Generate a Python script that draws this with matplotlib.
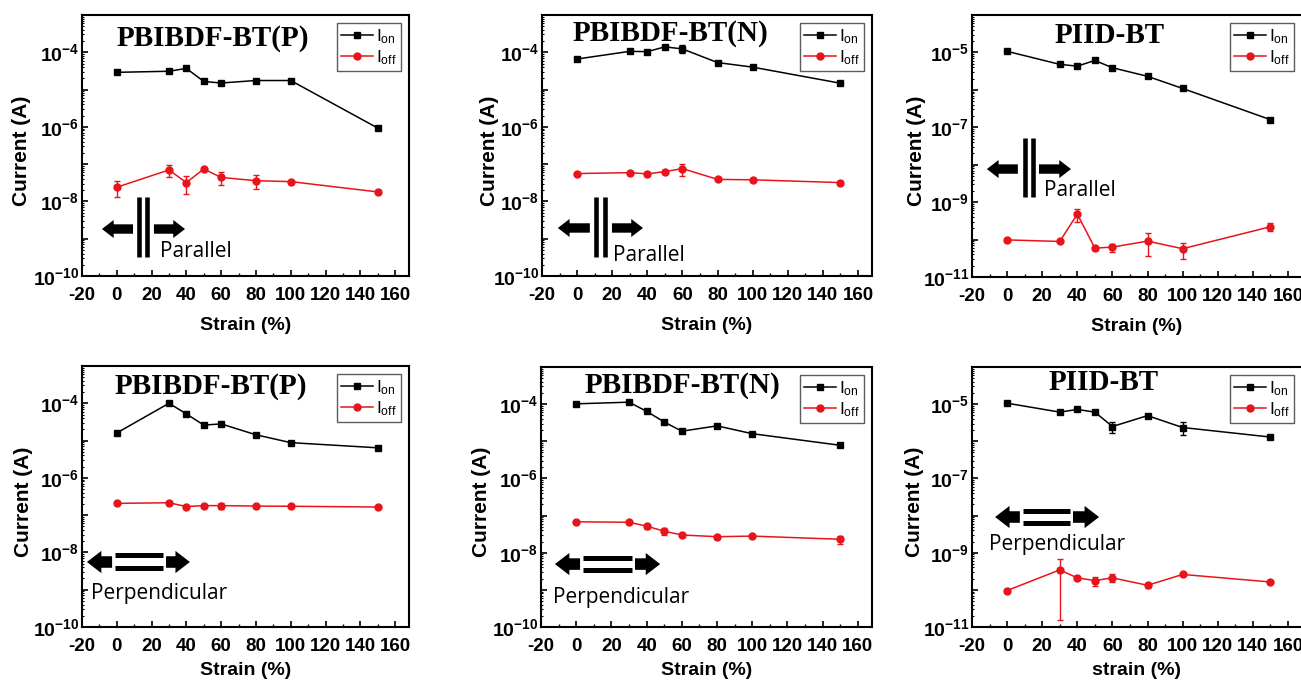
import numpy as np
import matplotlib.pyplot as plt
from matplotlib.ticker import FixedLocator, FuncFormatter, LogLocator, MultipleLocator

plt.rcParams['font.family'] = 'Liberation Sans'
plt.rcParams['axes.unicode_minus'] = False
plt.rcParams['mathtext.fontset'] = 'custom'
plt.rcParams['mathtext.rm'] = 'Liberation Sans'
plt.rcParams['mathtext.it'] = 'Liberation Sans:italic'
plt.rcParams['mathtext.bf'] = 'Liberation Sans:bold'

strain = [0, 30, 40, 50, 60, 80, 100, 150]

# PBIBDF-BT(P), strain parallel
pp_on = [2.9e-5, 3.1e-5, 3.7e-5, 1.65e-5, 1.5e-5, 1.75e-5, 1.75e-5, 9.3e-7]
pp_on_err = [0, 0, 0, 0, 0, 0, 0, 0]
pp_off = [2.4e-8, 7.0e-8, 3.2e-8, 7.4e-8, 4.4e-8, 3.6e-8, 3.4e-8, 1.8e-8]
pp_off_err = [1.1e-8, 2.5e-8, 1.6e-8, 0.5e-8, 1.7e-8, 1.5e-8, 0.4e-8, 0.2e-8]

# PBIBDF-BT(N), strain parallel
np_on = [6.6e-5, 1.06e-4, 1.04e-4, 1.4e-4, 1.23e-4, 5.3e-5, 4.0e-5, 1.48e-5]
np_on_err = [0, 0, 0, 0, 3e-5, 0, 0, 0]
np_off = [5.6e-8, 5.9e-8, 5.5e-8, 6.3e-8, 7.6e-8, 3.9e-8, 3.8e-8, 3.2e-8]
np_off_err = [0.4e-8, 0.6e-8, 0.8e-8, 0.5e-8, 2.8e-8, 0.3e-8, 0.3e-8, 0.3e-8]

# PIID-BT, strain parallel
ip_on = [1.07e-5, 4.8e-6, 4.3e-6, 6.1e-6, 3.9e-6, 2.3e-6, 1.09e-6, 1.6e-7]
ip_on_err = [0, 0, 0, 0, 0, 0, 0, 2e-8]
ip_off = [9.8e-11, 8.9e-11, 4.8e-10, 5.9e-11, 6.3e-11, 9.1e-11, 5.7e-11, 2.2e-10]
ip_off_err = [0.5e-11, 0.5e-11, 1.9e-10, 0.5e-11, 1.5e-11, 5.5e-11, 2.6e-11, 0.5e-10]

# PBIBDF-BT(P), strain perpendicular
pv_on = [1.6e-5, 1.0e-4, 5.2e-5, 2.6e-5, 2.8e-5, 1.43e-5, 8.8e-6, 6.4e-6]
pv_on_err = [0, 0, 0, 0, 0, 0, 0, 0]
pv_off = [2.07e-7, 2.15e-7, 1.7e-7, 1.8e-7, 1.8e-7, 1.75e-7, 1.73e-7, 1.65e-7]
pv_off_err = [0.15e-7, 0.3e-7, 0.15e-7, 0.15e-7, 0.3e-7, 0.15e-7, 0.1e-7, 0.1e-7]

# PBIBDF-BT(N), strain perpendicular
nv_on = [1.02e-4, 1.13e-4, 6.4e-5, 3.3e-5, 1.87e-5, 2.6e-5, 1.6e-5, 7.8e-6]
nv_on_err = [0, 0, 0, 0, 0, 0, 0, 0]
nv_off = [6.8e-8, 6.6e-8, 5.2e-8, 3.8e-8, 3.0e-8, 2.7e-8, 2.8e-8, 2.3e-8]
nv_off_err = [0.3e-8, 0.3e-8, 0.8e-8, 0.8e-8, 0.3e-8, 0.3e-8, 0.3e-8, 0.6e-8]

# PIID-BT, strain perpendicular
iv_on = [1.06e-5, 6.1e-6, 7.2e-6, 6.1e-6, 2.5e-6, 4.9e-6, 2.35e-6, 1.3e-6]
iv_on_err = [0, 0, 0, 0, 0.8e-6, 0, 0.9e-6, 0]
iv_off = [9.6e-11, 3.45e-10, 2.1e-10, 1.78e-10, 2.1e-10, 1.33e-10, 2.6e-10, 1.63e-10]
iv_off_err = [0.5e-11, 3.3e-10, 0.2e-10, 0.5e-10, 0.5e-10, 0.2e-10, 0.1e-10, 0.1e-10]

titles = ['PBIBDF-BT(P)', 'PBIBDF-BT(N)', 'PIID-BT',
          'PBIBDF-BT(P)', 'PBIBDF-BT(N)', 'PIID-BT']
xlabels = ['Strain (%)'] * 5 + ['strain (%)']

W, H = 1301, 683
fig = plt.figure(figsize=(W / 100, H / 100), dpi=100)

# axes boxes in pixels: left, right, top, bottom
boxes = [(82, 409, 15, 276), (542, 872, 15, 276), (972, 1302, 15, 277),
         (82, 409, 366, 627), (541, 872, 367, 627), (972, 1302, 367, 627)]

panels = [
    (pp_on, pp_on_err, pp_off, pp_off_err, (-10, -3), [-10, -8, -6, -4]),
    (np_on, np_on_err, np_off, np_off_err, (-10, -3), [-10, -8, -6, -4]),
    (ip_on, ip_on_err, ip_off, ip_off_err, (-11, -4), [-11, -9, -7, -5]),
    (pv_on, pv_on_err, pv_off, pv_off_err, (-10, -3), [-10, -8, -6, -4]),
    (nv_on, nv_on_err, nv_off, nv_off_err, (-10, -3), [-10, -8, -6, -4]),
    (iv_on, iv_on_err, iv_off, iv_off_err, (-11, -4), [-11, -9, -7, -5]),
]

# title centre (axes fraction)
title_pos = [(0.40, 0.91), (0.39, 0.93), (0.418, 0.92),
             (0.395, 0.92), (0.426, 0.93), (0.40, 0.94)]
# y label anchor x (axes fraction)
ylabel_x = [-0.155, -0.13, -0.139, -0.149, -0.15, -0.145]
xlabel_pad = [9, 9, 9, 5, 5, 5]

# strain direction sketches: (kind, left arrow x0,x1, y, bar x0,x1, bar ys, right arrow x0,x1, text x,y)
sketches = [
    ('par', 0.061, 0.156, 0.18, (0.174, 0.199), (0.073, 0.303), 0.22, 0.315, 0.239, 0.092),
    ('par', 0.048, 0.145, 0.184, (0.164, 0.191), (0.073, 0.303), 0.212, 0.306, 0.215, 0.08),
    ('par', 0.045, 0.139, 0.412, (0.161, 0.185), (0.305, 0.53), 0.203, 0.30, 0.218, 0.332),
    ('perp', 0.015, 0.092, 0.249, (0.101, 0.248), (0.226, 0.276), 0.257, 0.33, 0.027, 0.13),
    ('perp', 0.042, 0.118, 0.242, (0.127, 0.275), (0.219, 0.265), 0.284, 0.36, 0.036, 0.115),
    ('perp', 0.07, 0.145, 0.423, (0.155, 0.297), (0.40, 0.446), 0.306, 0.385, 0.052, 0.319),
]


def arrow(ax, x_tail, x_tip, y, scale):
    style = 'simple,head_length=0.65,head_width=1.0,tail_width=0.52'
    ax.annotate('', xy=(x_tip, y), xytext=(x_tail, y), xycoords='axes fraction',
                arrowprops=dict(arrowstyle=style, mutation_scale=scale, color='black',
                                shrinkA=0, shrinkB=0, lw=0))


for i, (ion, ion_err, ioff, ioff_err, ylim, labeled) in enumerate(panels):
    l, r, t, b = boxes[i]
    ax = fig.add_axes([l / W, (H - b) / H, (r - l) / W, (b - t) / H])
    ax.set_yscale('log')

    ax.errorbar(strain, ion, yerr=ion_err, fmt='none', ecolor='black', elinewidth=1, capsize=2)
    ax.errorbar(strain, ioff, yerr=ioff_err, fmt='none', ecolor='#e8141c', elinewidth=1, capsize=2)
    ax.plot(strain, ion, color='black', marker='s', ms=5, lw=1.1, label=r'$\mathregular{I_{on}}$')
    ax.plot(strain, ioff, color='#e8141c', marker='o', ms=5, lw=1.1, label=r'$\mathregular{I_{off}}$')

    ax.set_xlim(-20, 168)
    ax.set_ylim(10.0 ** ylim[0], 10.0 ** ylim[1])
    ax.xaxis.set_major_locator(MultipleLocator(20))
    ax.xaxis.set_minor_locator(MultipleLocator(10))
    decades = [10.0 ** e for e in range(ylim[0], ylim[1] + 1)]
    ax.yaxis.set_major_locator(FixedLocator(decades))
    ax.yaxis.set_minor_locator(LogLocator(base=10, subs=np.arange(2, 10), numticks=30))
    ax.yaxis.set_major_formatter(FuncFormatter(
        lambda v, pos, lab=labeled: r'$\mathbf{10^{-%d}}$' % -round(np.log10(v))
        if round(np.log10(v)) in lab else ''))
    ax.yaxis.set_minor_formatter(FuncFormatter(lambda v, pos: ''))
    ax.tick_params(which='both', direction='in', top=False, right=False)
    ax.tick_params(which='major', length=4, width=1.2)
    ax.tick_params(axis='x', which='major', labelsize=13.5, pad=8)
    ax.tick_params(axis='y', which='major', labelsize=14, pad=2)
    ax.tick_params(which='minor', length=2.5, width=1.0)
    ax.tick_params(axis='y', which='minor', length=1.5, width=0.8)
    for lab in ax.get_xticklabels():
        lab.set_fontweight('bold')
    for sp in ax.spines.values():
        sp.set_linewidth(1.5)

    ax.set_xlabel(xlabels[i], fontsize=14, fontweight='bold', labelpad=xlabel_pad[i])
    ax.set_ylabel('Current (A)', fontsize=15, fontweight='bold')
    ax.yaxis.set_label_coords(ylabel_x[i], 0.48)

    tx, ty = title_pos[i]
    ax.text(tx, ty, titles[i], transform=ax.transAxes, ha='center', va='center',
            fontsize=21, fontweight='bold', family='Liberation Serif')

    leg = ax.legend(loc='upper right', fontsize=12.5, frameon=True, fancybox=False,
                    handlelength=1.8, handletextpad=0.2, borderpad=0.25, labelspacing=0.15,
                    borderaxespad=0.45)
    leg.get_frame().set_edgecolor('#333333')
    leg.get_frame().set_linewidth(1.0)

    kind, ax0, ax1, ay, bxs, bys, rx0, rx1, txx, txy = sketches[i]
    if kind == 'par':
        arrow(ax, ax1, ax0, ay, 13)
        arrow(ax, rx0, rx1, ay, 13)
        for bx in bxs:
            ax.plot([bx, bx], [bys[0], bys[1]], transform=ax.transAxes, color='black',
                    lw=3.3, solid_capstyle='butt')
        ax.text(txx, txy, 'Parallel', transform=ax.transAxes, ha='left', va='center',
                fontsize=15, family='Open Sans')
    else:
        arrow(ax, ax1, ax0, ay, 16)
        arrow(ax, rx0, rx1, ay, 16)
        for by in bys:
            ax.plot([bxs[0], bxs[1]], [by, by], transform=ax.transAxes, color='black',
                    lw=3.6, solid_capstyle='butt')
        ax.text(txx, txy, 'Perpendicular', transform=ax.transAxes, ha='left', va='center',
                fontsize=15, family='Open Sans')

fig.savefig('out.png', dpi=100)
